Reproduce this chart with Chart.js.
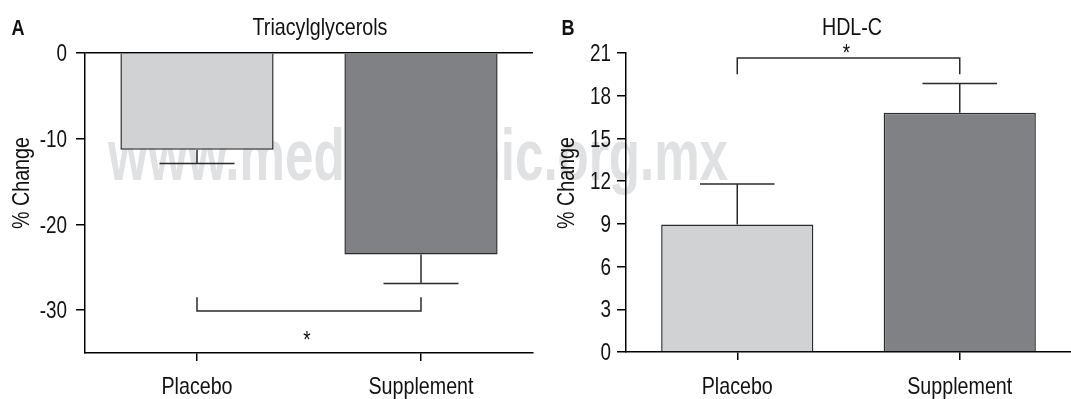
<!DOCTYPE html>
<html lang="en">
<head>
<meta charset="UTF-8">
<title>Triacylglycerols / HDL-C</title>
<script src="https://cdn.jsdelivr.net/npm/chart.js"></script>
<style>
  body { margin: 0; background: #fff; }
  #wrap { position: relative; width: 1071px; height: 399px; overflow: hidden; }
  #wrap canvas { position: absolute; top: 0; }
  #mark { left: 0; z-index: 0; }
  #chartA { left: 0; z-index: 1; }
  #chartB { left: 535px; z-index: 1; }
</style>
</head>
<body>
<div id="wrap">
  <canvas id="mark" width="1071" height="399"></canvas>
  <canvas id="chartA" width="535" height="399"></canvas>
  <canvas id="chartB" width="536" height="399"></canvas>
</div>
<script>
// data
const categories = ['Placebo', 'Supplement'];

const tgMean = [-11.3, -23.5];     // % change, triacylglycerols
const tgErr = [1.6, 3.4];
const tgTicks = [0, -10, -20, -30];
const tgBracket = [-28.5, -30.1];  // leg end, bar level
const tgStar = -33;

const hdlMean = [8.95, 16.8];      // % change, HDL-C
const hdlErr = [2.85, 2.05];
const hdlTicks = [0, 3, 6, 9, 12, 15, 18, 21];
const hdlBracket = [19.5, 20.65];
const hdlStar = 21.3;

const FONT = '"Liberation Sans", Arial, sans-serif';
const NARROW = 0.82;   // the original uses a condensed face
const barColors = ['#d1d2d4', '#808185'];

// text squeezed horizontally to look condensed
function narrowText(ctx, txt, x, y, align, rot) {
  ctx.save();
  ctx.translate(x, y);
  if (rot) ctx.rotate(rot);
  ctx.scale(NARROW, 1);
  ctx.textAlign = align;
  ctx.fillText(txt, 0, 0);
  ctx.restore();
}

// watermark behind both panels
(function () {
  const ctx = document.getElementById('mark').getContext('2d');
  const txt = 'www.medigraphic.org.mx';
  ctx.font = 'bold 72px ' + FONT;
  const w = ctx.measureText(txt).width;
  ctx.save();
  ctx.translate(108, 180);
  ctx.scale(620 / w, 1);
  ctx.fillStyle = '#e0e1e3';
  ctx.fillText(txt, 0, 0);
  ctx.restore();
})();

// error bars, significance bracket, tick labels and panel text
const annotPlugin = {
  id: 'annot',
  afterDatasetsDraw(chart, args, o) {
    const ctx = chart.ctx;
    const x = chart.scales.x, y = chart.scales.y;
    const meta = chart.getDatasetMeta(0);
    ctx.save();
    ctx.strokeStyle = '#2b2b2b';
    ctx.lineWidth = 1.5;
    o.mean.forEach((m, i) => {
      const bar = meta.data[i];
      const end = m + (m < 0 ? -o.err[i] : o.err[i]);
      const y0 = y.getPixelForValue(m), y1 = y.getPixelForValue(end);
      const half = bar.width * 0.245;
      ctx.beginPath();
      ctx.moveTo(bar.x, y0);
      ctx.lineTo(bar.x, y1);
      ctx.moveTo(bar.x - half, y1);
      ctx.lineTo(bar.x + half, y1);
      ctx.stroke();
    });
    const x0 = x.getPixelForValue(0), x1 = x.getPixelForValue(1);
    const yLeg = y.getPixelForValue(o.bracket[0]);
    const yBar = y.getPixelForValue(o.bracket[1]);
    ctx.beginPath();
    ctx.moveTo(x0, yLeg);
    ctx.lineTo(x0, yBar);
    ctx.lineTo(x1, yBar);
    ctx.lineTo(x1, yLeg);
    ctx.stroke();
    // asterisk centred on its value
    ctx.fillStyle = '#111';
    ctx.font = '23px ' + FONT;
    ctx.textBaseline = 'alphabetic';
    const mt = ctx.measureText('*');
    const yc = y.getPixelForValue(o.star);
    narrowText(ctx, '*', (x0 + x1) / 2 - 2, yc + (mt.actualBoundingBoxAscent - mt.actualBoundingBoxDescent) / 2, 'center');
    ctx.restore();
  },
  afterDraw(chart, args, o) {
    const ctx = chart.ctx;
    const x = chart.scales.x, y = chart.scales.y;
    ctx.save();
    ctx.fillStyle = '#111';
    ctx.textBaseline = 'alphabetic';
    // y tick labels
    ctx.font = '23px ' + FONT;
    y.ticks.forEach(t => {
      narrowText(ctx, String(t.value), o.tickRight, y.getPixelForValue(t.value) + 8.2, 'right');
    });
    // category labels
    ctx.font = '24px ' + FONT;
    categories.forEach((c, i) => {
      narrowText(ctx, c, x.getPixelForValue(i), 394, 'center');
    });
    ctx.font = 'bold 22px ' + FONT;
    narrowText(ctx, o.letter, o.letterX, 35, 'center');
    ctx.font = '24px ' + FONT;
    narrowText(ctx, o.title, o.titleX, 35, 'center');
    narrowText(ctx, '% Change', o.labelX, 183, 'center', -Math.PI / 2);
    ctx.restore();
  }
};

function makePanel(id, p) {
  return new Chart(document.getElementById(id), {
    type: 'bar',
    data: {
      labels: categories,
      datasets: [{
        data: p.mean,
        backgroundColor: barColors,
        borderColor: '#2b2b2b',
        borderWidth: 1.5,
        barPercentage: 0.684,
        categoryPercentage: 1
      }]
    },
    options: {
      responsive: false,
      animation: false,
      layout: { padding: { top: 53, right: p.padRight, left: 0, bottom: 0 } },
      plugins: {
        legend: { display: false },
        tooltip: { enabled: false },
        annot: p.annot
      },
      scales: {
        x: {
          afterFit: s => { s.height = p.xHeight; },
          border: { display: true, color: '#000', width: 1.5 },
          grid: { display: true, drawOnChartArea: false, offset: false, tickLength: 8, color: '#000', lineWidth: 1.5 },
          ticks: { display: false }
        },
        y: {
          min: p.min,
          max: p.max,
          afterFit: s => { s.width = p.yWidth; },
          afterBuildTicks: s => { s.ticks = p.ticks.map(v => ({ value: v })); },
          border: { display: true, color: '#000', width: 1.5 },
          grid: {
            display: true,
            drawOnChartArea: true,
            tickLength: 9,
            lineWidth: 1.5,
            color: c => (p.zeroLine && c.tick && c.tick.value === 0) ? '#000' : 'rgba(0,0,0,0)',
            tickColor: '#000'
          },
          ticks: { display: false }
        }
      }
    },
    plugins: [annotPlugin]
  });
}

makePanel('chartA', {
  mean: tgMean, min: -35, max: 0, ticks: tgTicks, zeroLine: true,
  yWidth: 85, xHeight: 46, padRight: 2,
  annot: { mean: tgMean, err: tgErr, bracket: tgBracket, star: tgStar, tickRight: 67,
           letter: 'A', letterX: 18, title: 'Triacylglycerols', titleX: 320, labelX: 29 }
});

makePanel('chartB', {
  mean: hdlMean, min: 0, max: 21, ticks: hdlTicks, zeroLine: false,
  yWidth: 91, xHeight: 47, padRight: 0,
  annot: { mean: hdlMean, err: hdlErr, bracket: hdlBracket, star: hdlStar, tickRight: 76,
           letter: 'B', letterX: 33, title: 'HDL-C', titleX: 317, labelX: 39 }
});
</script>
</body>
</html>
